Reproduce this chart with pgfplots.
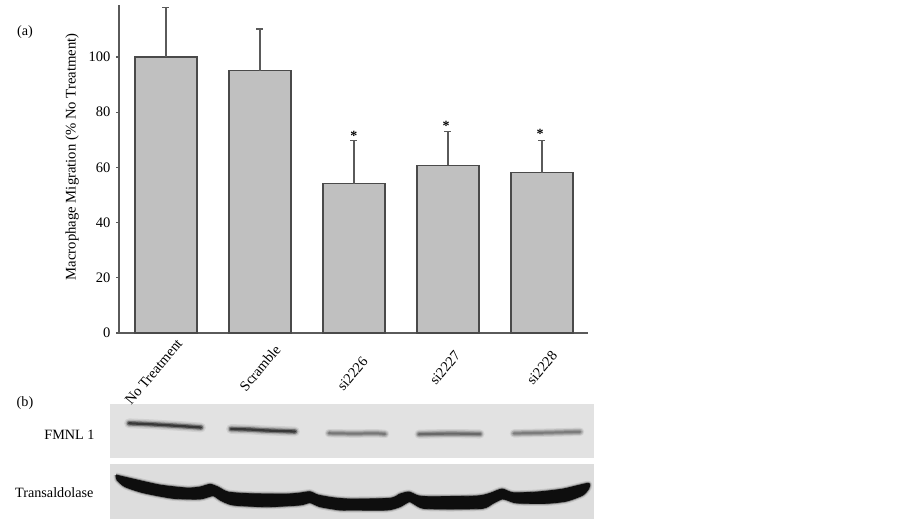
\documentclass[border=0pt]{standalone}
\usepackage{pgfplots}
\usepackage{pgfplotstable}
\pgfplotsset{compat=1.18}
\usepackage{fontspec}
\setmainfont{Liberation Serif}
\definecolor{axisgray}{HTML}{5A5A5A}
\definecolor{edgegray}{HTML}{4A4A4A}
\definecolor{barfill}{HTML}{C0C0C0}
\definecolor{blotA}{HTML}{E2E2E2}
\definecolor{blotB}{HTML}{DDDDDD}
\definecolor{inkdark}{HTML}{0E0E0E}

\pgfplotstableread{
x y
116 475
133 479
160 485
187 488
200 487
210 484.3
218 487
228 492
250 493.7
287 494
300 493
310 491.7
318 495
333 497.7
350 499
390 498.3
400 494
409 492
418 495.7
430 496.7
477 496
490 493.3
502 489
513 492.7
537 492
563 489
588 483.3
589 488
583 495
567 501
547 503.3
517 503
507 500
502 499
493 503.3
483 508.3
450 509
423 508.3
413 503.3
409 501.7
400 506.7
387 510
350 510
340 510
320 506.7
310 502.7
300 505
267 506.7
233 505
220 500
213 495.7
200 499
173 498.3
143 492.7
125 486.7
117 480
116 475
}\transal

\pgfplotstableread{
x y
129 423.3
150 424.2
180 426
201 427.5
}\bandA
\pgfplotstableread{
x y
231 429
252 429.6
262 430.3
295 431.5
}\bandB
\pgfplotstableread{
x y
329 433.2
355 433.6
375 433.3
385 434
}\bandC
\pgfplotstableread{
x y
419 434.2
450 433.6
480 434
}\bandD
\pgfplotstableread{
x y
514 433.4
550 432.6
580 431.8
}\bandE

\newcommand\band[4]{% table, outer width, mid opacity, core opacity
  \addplot[line width=#2pt*1.4, line cap=round, black, opacity=.08, smooth] table[x=x,y=y] {#1};
  \addplot[line width=#2pt, line cap=round, black, opacity=.14, smooth] table[x=x,y=y] {#1};
  \addplot[line width=#2pt*0.66, line cap=round, black, opacity=#3, smooth] table[x=x,y=y] {#1};
  \addplot[line width=#2pt*0.33, line cap=round, black, opacity=#4, smooth] table[x=x,y=y] {#1};
}

\begin{document}
\begin{tikzpicture}
\useasboundingbox (0,0) rectangle (902pt,525pt);

% western blot panels and free labels, in image pixels
\begin{axis}[
  at={(0pt,0pt)}, anchor=south west,
  scale only axis, width=902pt, height=525pt,
  xmin=0, xmax=902, ymin=0, ymax=525, y dir=reverse,
  hide axis, clip=false,
]
\addplot[draw=none, fill=blotA] coordinates {(110,404)(594,404)(594,458)(110,458)} --cycle;
\addplot[draw=none, fill=blotB] coordinates {(110,464)(594,464)(594,519)(110,519)} --cycle;
\band{\bandA}{7}{.35}{.5}
\band{\bandB}{7}{.35}{.5}
\band{\bandC}{6}{.16}{.2}
\band{\bandD}{6.5}{.2}{.26}
\band{\bandE}{6}{.14}{.18}
\addplot[draw=black, line width=5pt, line join=round, opacity=.1, smooth, tension=.4] table[x=x,y=y] {\transal};
\addplot[draw=black, line width=2.6pt, line join=round, opacity=.28, smooth, tension=.4] table[x=x,y=y] {\transal};
\addplot[draw=inkdark, fill=inkdark, line width=.8pt, line join=round, smooth, tension=.4] table[x=x,y=y] {\transal};
\node[font=\fontsize{14.2}{16}\selectfont] at (axis cs:25,32) {(a)};
\node[font=\fontsize{14.2}{16}\selectfont] at (axis cs:25,403) {(b)};
\node[font=\fontsize{14.2}{16}\selectfont, anchor=east] at (axis cs:98,435) {FMNL 1};
\node[font=\fontsize{14.2}{16}\selectfont, anchor=east] at (axis cs:97,493) {Transaldolase};
\end{axis}

% bar chart
\begin{axis}[
  at={(119pt,192pt)}, anchor=south west,
  scale only axis, width=469pt, height=328pt,
  xmin=-0.5, xmax=4.49, ymin=0, ymax=118.8,
  axis lines*=left,
  axis line style={axisgray, line width=1.2pt, -},
  ytick={0,20,40,60,80,100},
  xtick={0,1,2,3,4},
  xticklabels={{\rule[-14pt]{0pt}{1pt}No Treatment\hspace*{22pt}},Scramble,{\rule{0pt}{15pt}si2226\hspace*{11pt}},{\rule[-4.6pt]{0pt}{1pt}si2227\hspace*{3.8pt}},si2228},
  xtick style={draw=none},
  ytick style={axisgray, line width=1.2pt},
  tick align=outside,
  major tick length=3pt,
  tick label style={font=\fontsize{14.5}{16}\selectfont},
  /pgf/number format/assume math mode=true,
  xticklabel style={yshift=-32pt, rotate=50, anchor=center},
  yticklabel style={xshift=-2pt},
  ylabel={Macrophage Migration (\% No Treatment)},
  every axis y label/.style={at={(rel axis cs:0,0.537)}, anchor=center, rotate=90, yshift=47pt, font=\fontsize{14.7}{16}\selectfont},
  clip=false,
]
\addplot[ybar, bar width=0.66, draw=edgegray, fill=barfill, line width=1.2pt] coordinates {(0,100)(1,95)(2,54.1)(3,60.7)(4,58.1)};
% upper error bars
\addplot[draw=none, no marks, forget plot,
  error bars/.cd, y dir=plus, y explicit, error mark=-, error bar style={axisgray, line width=1.2pt},
  error mark options={axisgray, line width=1.2pt, mark size=3.5pt, rotate=90}]
  coordinates {(0,100) +- (0,18.0) (1,95) +- (0,15.1) (2,54.1) +- (0,15.5) (3,60.7) +- (0,12.2) (4,58.1) +- (0,11.5)};
\node[font=\bfseries\fontsize{14}{16}\selectfont] at (axis cs:2,71.5) {*};
\node[font=\bfseries\fontsize{14}{16}\selectfont] at (axis cs:2.98,75) {*};
\node[font=\bfseries\fontsize{14}{16}\selectfont] at (axis cs:3.98,72) {*};
\end{axis}
\end{tikzpicture}
\end{document}
